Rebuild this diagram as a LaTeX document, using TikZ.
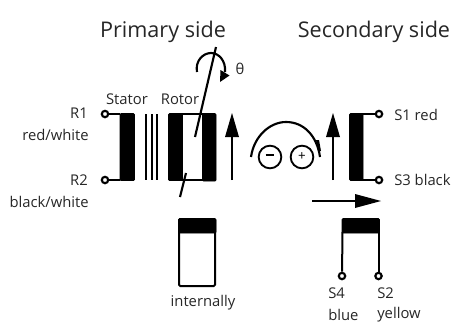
\documentclass[tikz,border=0pt]{standalone}
\usepackage{fontspec}
\setmainfont{Open Sans}
\begin{document}
\begin{tikzpicture}[x=0.75pt,y=-0.75pt,
  wire/.style={line width=1.5pt,line join=round},
  thin wire/.style={line width=1.2pt},
  coil/.style={fill=black,draw=black,line width=0.6pt,rounded corners=0.8pt},
  term/.style={circle,draw=black,fill=white,line width=1.6pt,minimum size=4.8pt,inner sep=0pt},
  lab/.style={font=\fontsize{11.1pt}{13pt}\selectfont,inner sep=0pt,text=black!85},
  head/.style={font=\fontsize{16.2pt}{20pt}\selectfont,inner sep=0pt,text=black!85},
  pol/.style={circle,draw=black,line width=1.4pt,minimum size=17pt,inner sep=0pt,font=\fontsize{10pt}{10pt}\selectfont}]
\useasboundingbox (0,0) rectangle (454,325);
\node[head] (prim) at (163,32) {Primary side};
\node[head] (sec) at (374,32) {Secondary side};
\node[lab] (stator) at (127,99) {Stator};
\node[lab] (rotor) at (180,99) {Rotor};
\node[lab] (theta) at (240,69) {θ};
\node[lab,anchor=east] (r1) at (88,113) {R1};
\node[lab,anchor=east] (r1c) at (89,135) {red/white};
\node[lab,anchor=east] (r2) at (88,180) {R2};
\node[lab,anchor=east] (r2c) at (89,202) {black/white};
\node[lab,anchor=west] (s1) at (394,115) {S1 red};
\node[lab,anchor=west] (s3) at (394,180) {S3 black};
\node[lab] (int) at (203,303) {internally};
\node[lab,anchor=west] (s4) at (328,293) {S4};
\node[lab,anchor=west] (s4c) at (328,315) {blue};
\node[lab,anchor=west] (s2) at (377,293) {S2};
\node[lab,anchor=west] (s2c) at (377,315) {yellow};
% stator
\coordinate (st1) at (120,114);
\coordinate (st2) at (120,180);
\draw[coil] (120,113.5) rectangle (134.5,180.5);
\node[term] (tr1) at (105,114) {};
\node[term] (tr2) at (105,180) {};
\draw[wire] (tr1) -- (st1);
\draw[wire] (tr2) -- (st2);
% laminations
\foreach \x in {146,151.5,157}{\draw[line width=1.5pt] (\x,114) -- (\x,180);}
% rotor
\draw[coil] (168.5,113.5) rectangle (182.5,180.5);
\draw[coil] (202.5,113.5) rectangle (216,181);
\draw[thin wire] (180,114) -- (205,114);
\draw[thin wire] (180,180) -- (205,180);
% shaft
\draw[line width=1.6pt] (216,47) -- (195,137);
\draw[line width=1.6pt] (186,173) -- (180,197);
% rotation
\coordinate (ra) at (197,72);
\coordinate (rb) at (225,72);
\draw[line width=1.6pt] (ra) .. controls (195,61) and (203,53) .. (211,53) .. controls (219,53) and (226,61) .. (rb);
\fill (220,82) -- (229.5,75.5) -- (220.5,70) -- cycle;
% field arrows
\draw[line width=1.4pt] (232,180) -- (232,130);
\fill (232,113) -- (239,137) -- (225,137) -- cycle;
\draw[line width=1.4pt] (333,180) -- (333,130);
\fill (333,113) -- (340,137) -- (326,137) -- cycle;
% polarity
\node[pol] (minus) at (270,157) {\rule[2.6pt]{6.5pt}{1.3pt}};
\node[pol] (plus) at (302,157) {+};
\draw[line width=1.6pt] (251,157) .. controls (254,136) and (270,122) .. (286,122) .. controls (304,122) and (317,136) .. (320,157);
\fill (316,140) -- (319,140) -- (321,151) -- (318,151) -- cycle;
% secondary coil
\draw[coil] (349.5,113.5) rectangle (363,180.5);
\node[term] (ts1) at (379,114) {};
\node[term] (ts3) at (379,180) {};
\coordinate (sc1) at (362,114);
\coordinate (sc3) at (362,180);
\draw[wire] (sc1) -- (ts1);
\draw[wire] (sc3) -- (ts3);
% horizontal arrow
\draw[line width=1.5pt] (312,201) -- (360,201);
\fill (381,201) -- (355,194) -- (355,208) -- cycle;
% internal coil
\draw[line width=1.5pt,rounded corners=1pt] (179,219) rectangle (215,286);
\draw[coil] (178.5,218.5) rectangle (216,233);
% S coil
\draw[coil] (342,218.5) rectangle (379.5,233);
\node[term] (ts4) at (342,276) {};
\node[term] (ts2) at (378.5,276) {};
\coordinate (c4) at (342.5,232);
\coordinate (c2) at (378.5,232);
\draw[wire] (c4) -- (ts4);
\draw[wire] (c2) -- (ts2);
\end{tikzpicture}
\end{document}
